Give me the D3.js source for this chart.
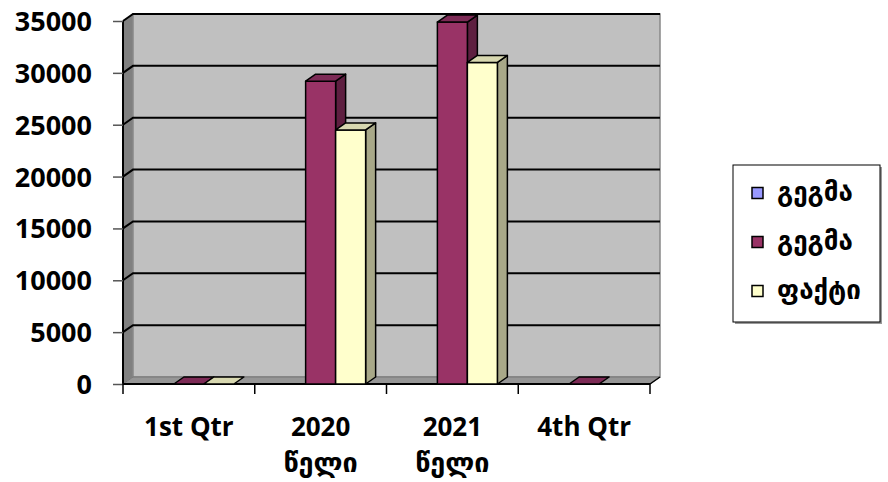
<!DOCTYPE html>
<html>
<head>
<meta charset="utf-8">
<script src="https://cdn.jsdelivr.net/npm/d3@7"></script>
<style>
  body { margin: 0; background: #fff; }
  text { font-family: "Open Sans", "DejaVu Sans", sans-serif; font-weight: bold; }
</style>
</head>
<body>
<div id="chart"></div>
<script>
const categories = ["1st Qtr", "2020 წელი", "2021 წელი", "4th Qtr"]
const seriesNames = ["გეგმა", "გეგმა", "ფაქტი"]
const plan1 = [null, null, null, null]
const plan2 = [0, 29200, 34900, 0]
const fact = [0, 24500, 31000, null]
const yTicks = [0, 5000, 10000, 15000, 20000, 25000, 30000, 35000]

const colors = [
    {front: "#9999ff", top: "#7a7acc", side: "#5c5c99"},
    {front: "#993366", top: "#7d2b56", side: "#5e1f40"},
    {front: "#ffffcc", top: "#d8d8b0", side: "#a8a888"}
]

document.addEventListener("DOMContentLoaded", draw)

function draw(){
    const width = 888, height = 482
    const dx = 10, dy = -7   // depth of the 3d box
    const left = 123, right = 650, top = 21, bottom = 384

    const svg = d3.select("#chart").append("svg")
        .attr("width", width)
        .attr("height", height)

    const y = d3.scaleLinear().domain([0, 35000]).range([bottom, top])
    const x = d3.scaleBand().domain(categories).range([left, right])
    const inner = d3.scaleBand().domain([0, 1, 2]).range([0, 90])

    // side wall
    svg.append("polygon")
        .attr("points", [[left, top], [left + dx, top + dy], [left + dx, bottom + dy], [left, bottom]].join(" "))
        .attr("fill", "#808080")
    // back wall
    svg.append("rect")
        .attr("x", left + dx).attr("y", top + dy)
        .attr("width", right - left).attr("height", bottom - top)
        .attr("fill", "#c0c0c0")
        .attr("stroke", "#888").attr("stroke-width", 1.5)
    // floor
    svg.append("polygon")
        .attr("points", [[left, bottom], [left + dx, bottom + dy], [right + dx, bottom + dy], [right, bottom]].join(" "))
        .attr("fill", "#969696")
        .attr("stroke", "#777").attr("stroke-width", 1)

    // gridlines
    svg.append("g").selectAll("polyline")
        .data(yTicks.filter(d => d > 0))
        .enter()
        .append("polyline")
        .attr("points", d => [[left, y(d)], [left + dx, y(d) + dy], [right + dx, y(d) + dy]].join(" "))
        .attr("fill", "none")
        .attr("stroke", "#000")
        .attr("stroke-width", 2)

    // y axis
    const yAxis = d3.axisLeft(y).tickValues(yTicks).tickSize(10).tickPadding(21).tickFormat(d3.format("d"))
    const gy = svg.append("g").attr("transform", "translate(" + left + ",0)").call(yAxis)
    gy.select(".domain").attr("stroke", "#000").attr("stroke-width", 2).attr("d", "M0," + top + "V" + bottom)
    gy.selectAll(".tick line").attr("stroke", "#555").attr("stroke-width", 1.5)
    gy.selectAll(".tick text")
        .attr("fill", "#000")
        .style("font-size", "27px")
        .attr("dy", "0.35em")

    // x axis along the front floor edge
    svg.append("line")
        .attr("x1", left).attr("x2", right)
        .attr("y1", bottom).attr("y2", bottom)
        .attr("stroke", "#000").attr("stroke-width", 2)
    svg.append("line")
        .attr("x1", right).attr("x2", right + dx)
        .attr("y1", bottom).attr("y2", bottom + dy)
        .attr("stroke", "#000").attr("stroke-width", 1.5)
    const xTickPos = categories.map(c => x(c)).concat([right])
    svg.append("g").selectAll("line")
        .data(xTickPos)
        .enter()
        .append("line")
        .attr("x1", d => d).attr("x2", d => d)
        .attr("y1", bottom).attr("y2", bottom + 10)
        .attr("stroke", "#000").attr("stroke-width", 1.5)

    const labels = svg.append("g").selectAll("text")
        .data(categories)
        .enter()
        .append("text")
        .attr("x", d => x(d) + x.bandwidth() / 2)
        .attr("y", 436)
        .attr("text-anchor", "middle")
        .style("font-size", "26px")
    labels.each(function(d){
        const parts = d.split(" ")
        const t = d3.select(this)
        if (parts.length > 1 && /^\d+$/.test(parts[0])) {
            t.append("tspan").attr("x", x(d) + x.bandwidth() / 2).text(parts[0])
            t.append("tspan").attr("x", x(d) + x.bandwidth() / 2).attr("dy", 36).style("font-size", "27px").text(parts.slice(1).join(" "))
        } else {
            t.text(d)
        }
    })

    // bars
    const series = [plan1, plan2, fact]
    const bars = []
    categories.forEach((c, i) => {
        series.forEach((s, j) => {
            if (s[i] === null) return
            bars.push({cat: c, s: j, v: s[i]})
        })
    })
    const gb = svg.append("g")
    bars.forEach(b => {
        const x0 = x(b.cat) + x.bandwidth() / 2 - 45 + inner(b.s)
        const x1 = x0 + inner.bandwidth()
        const y0 = y(b.v)
        const col = colors[b.s]
        const g = gb.append("g")
            .attr("stroke", "#000").attr("stroke-width", 1.5).attr("stroke-linejoin", "round")
        if (b.v > 0) {
            g.append("polygon")
                .attr("points", [[x1, y0], [x1 + dx, y0 + dy], [x1 + dx, bottom + dy], [x1, bottom]].join(" "))
                .attr("fill", col.side)
            g.append("rect")
                .attr("x", x0).attr("y", y0)
                .attr("width", x1 - x0).attr("height", bottom - y0)
                .attr("fill", col.front)
        }
        g.append("polygon")
            .attr("points", [[x0, y0], [x0 + dx, y0 + dy], [x1 + dx, y0 + dy], [x1, y0]].join(" "))
            .attr("fill", col.top)
    })

    // legend
    const lx = 733, ly = 165, lw = 147, lh = 157
    svg.append("rect")
        .attr("x", lx + 2).attr("y", ly + 2).attr("width", lw).attr("height", lh)
        .attr("fill", "#999")
    svg.append("rect")
        .attr("x", lx).attr("y", ly).attr("width", lw).attr("height", lh)
        .attr("fill", "#fff").attr("stroke", "#000").attr("stroke-width", 1)
    const items = svg.append("g").selectAll("g")
        .data(seriesNames)
        .enter()
        .append("g")
        .attr("transform", (d, i) => "translate(" + (lx + 19) + "," + (ly + 28 + i * 49) + ")")
    items.append("rect")
        .attr("x", 0).attr("y", -5.5).attr("width", 11).attr("height", 11)
        .attr("fill", (d, i) => colors[i].front)
        .attr("stroke", "#000").attr("stroke-width", 1.5)
    items.append("text")
        .attr("x", 25).attr("y", 0).attr("dy", "0.3em")
        .style("font-size", "26px")
        .text(d => d)
}
</script>
</body>
</html>
